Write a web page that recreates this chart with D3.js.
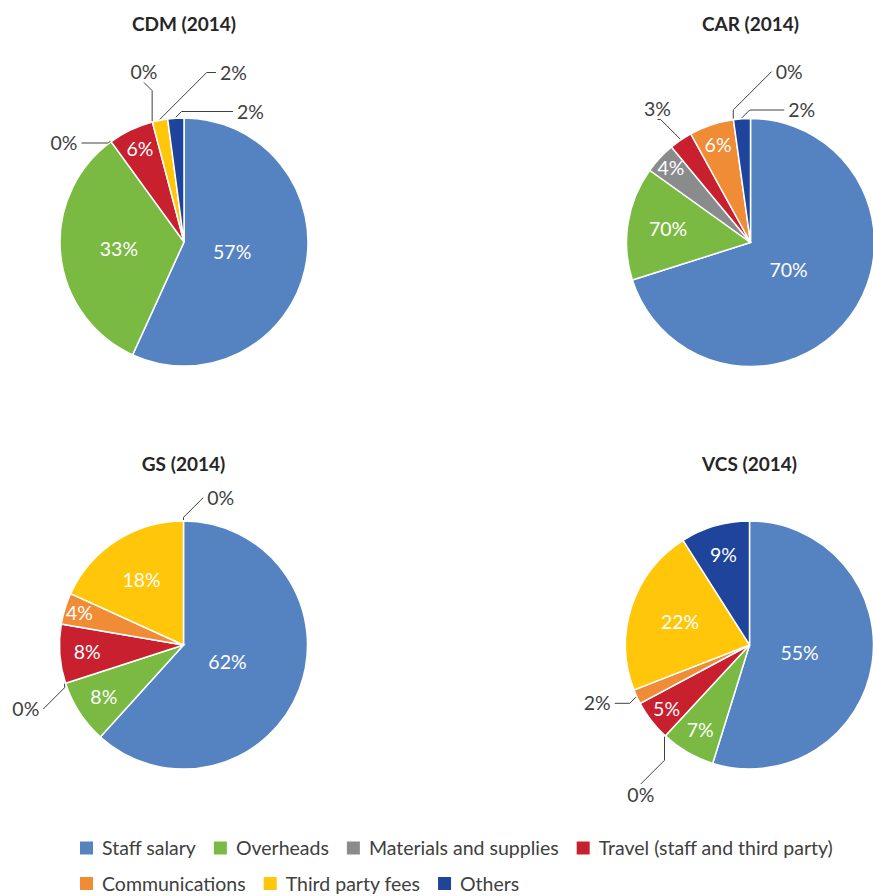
<!DOCTYPE html>
<html>
<head>
<meta charset="utf-8">
<script src="https://cdn.jsdelivr.net/npm/d3@7"></script>
<style>
  body { margin: 0; background: #fff; }
  svg text { font-family: Lato, "Open Sans", sans-serif; }
</style>
</head>
<body>
<div id="container"></div>
<script>
// categories in the order the slices run (clockwise from 12 o'clock)
const categories = ["Staff salary", "Overheads", "Materials and supplies", "Travel (staff and third party)",
                    "Communications", "Third party fees", "Others"]
const colors = ["#5583c2", "#7aba42", "#898b8c", "#c8202e", "#f08b36", "#ffc60a", "#1f449b"]

const titles = ["CDM (2014)", "CAR (2014)", "GS (2014)", "VCS (2014)"]

// slice sizes (percent)
const cdmValues = [56.8, 33.2, 0, 5.9, 0, 2.0, 2.1]
const carValues = [70.1, 14.8, 4.1, 3.0, 5.8, 0, 2.2]
const gsValues  = [61.7, 8.3, 0, 7.7, 4.1, 18.2, 0]
const vcsValues = [54.8, 7.1, 0, 5.3, 1.9, 21.9, 9.0]

// data labels as printed (the green CAR one does say 70%)
const cdmLabels = ["57%", "33%", "0%", "6%", "0%", "2%", "2%"]
const carLabels = ["70%", "70%", "4%", "3%", "6%", "0%", "2%"]
const gsLabels  = ["62%", "8%", "0%", "8%", "4%", "18%", "0%"]
const vcsLabels = ["55%", "7%", "0%", "5%", "2%", "22%", "9%"]

const allValues = [cdmValues, carValues, gsValues, vcsValues]
const allLabels = [cdmLabels, carLabels, gsLabels, vcsLabels]

// ---- layout ----
const W = 873, H = 896, R = 124
const fontSize = 19.5
const panels = [
  {cx: 184,   cy: 242,   ty: 31},
  {cx: 750.5, cy: 242.5, ty: 31},
  {cx: 183.5, cy: 645,   ty: 471},
  {cx: 749.5, cy: 645,   ty: 471}
]
// labels pulled outside the pie, offset of the label centre from the pie centre
const outside = [
  {2: [-120, -99], 4: [-40, -170.5], 5: [49.5, -169.5], 6: [66.5, -130.5]},
  {3: [-93, -134], 5: [38.7, -171], 6: [51.3, -132.5]},
  {2: [-157.7, 64], 6: [37.3, -147.5]},
  {2: [-108.7, 150], 4: [-152.3, 58.3]}
]

// smaller slices get their label further out, like excel's best fit
const labelRadius = d3.scaleLinear()
  .domain([0.04, 0.08, 0.2, 0.6])
  .range([0.88, 0.77, 0.6, 0.38])
  .clamp(true)

const svg = d3.select("#container")
  .append("svg")
  .attr("width", W)
  .attr("height", H)

const pie = d3.pie().sort(null).value(d => d)
const arc = d3.arc().innerRadius(0).outerRadius(R)
const edge = d3.arc().innerRadius(R + 1).outerRadius(R + 1)

// leader line: anchor on the pie edge -> elbow -> side of the label box
function leaderPath(a, c, w, h) {
  const pad = 4
  const ddx = c[0] - a[0], ddy = c[1] - a[1]
  let e
  if (Math.abs(ddy) - h / 2 > Math.abs(ddx) - w / 2) {
    e = [c[0], ddy > 0 ? c[1] - h / 2 - pad : c[1] + h / 2 + pad]
  } else {
    e = [ddx > 0 ? c[0] - w / 2 - pad : c[0] + w / 2 + pad, c[1]]
  }
  const dx = e[0] - a[0], dy = e[1] - a[1]
  let m
  if (Math.abs(dx) >= Math.abs(dy)) {
    m = [a[0] + Math.sign(dx) * Math.abs(dy), e[1]]
  } else {
    m = [a[0], e[1] - Math.sign(dy) * Math.abs(dx)]
  }
  return d3.line()([a, m, e])
}

allValues.forEach((values, ci) => {
  const p = panels[ci]
  const labels = allLabels[ci]
  const total = d3.sum(values)
  const arcs = pie(values)

  svg.append("text")
    .attr("x", p.cx)
    .attr("y", p.ty)
    .attr("text-anchor", "middle")
    .attr("font-weight", "bold")
    .attr("font-size", 19)
    .attr("fill", "#262626")
    .text(titles[ci])

  const g = svg.append("g")
    .attr("transform", "translate(" + p.cx + "," + p.cy + ")")

  g.selectAll("path.slice")
    .data(arcs.filter(d => d.value > 0))
    .enter()
    .append("path")
    .attr("class", "slice")
    .attr("d", arc)
    .attr("fill", d => colors[d.index])
    .attr("stroke", "#fff")
    .attr("stroke-width", 1.5)

  arcs.forEach(d => {
    const nudge = outside[ci][d.index]
    if (nudge) {
      const t = g.append("text")
        .attr("x", nudge[0])
        .attr("y", nudge[1])
        .attr("dy", "0.36em")
        .attr("text-anchor", "middle")
        .attr("font-size", fontSize)
        .attr("fill", "#404040")
        .text(labels[d.index])
      const w = t.node().getComputedTextLength()
      g.append("path")
        .attr("d", leaderPath(edge.centroid(d), nudge, w, fontSize * 0.72))
        .attr("fill", "none")
        .attr("stroke", "#404040")
        .attr("stroke-width", 1)
    } else {
      const lr = R * labelRadius(d.value / total)
      const pos = d3.arc().innerRadius(lr).outerRadius(lr).centroid(d)
      g.append("text")
        .attr("x", pos[0])
        .attr("y", pos[1])
        .attr("dy", "0.36em")
        .attr("text-anchor", "middle")
        .attr("font-size", fontSize)
        .attr("fill", "#fff")
        .text(labels[d.index])
    }
  })
})

// legend, flowing left to right and wrapping
const legend = svg.append("g")
let lx = 80, row = 0
const rowY = [848, 883.5], maxX = 870, box = 13
categories.forEach((name, i) => {
  const item = legend.append("g")
  const t = item.append("text")
    .attr("font-size", fontSize)
    .attr("fill", "#404040")
    .attr("dy", "0.36em")
    .text(name)
  const w = box + 9 + t.node().getComputedTextLength()
  if (lx + w > maxX) { lx = 80; row++ }
  item.attr("transform", "translate(" + lx + "," + rowY[row] + ")")
  item.append("rect")
    .attr("x", 0)
    .attr("y", -box / 2)
    .attr("width", box)
    .attr("height", box)
    .attr("fill", colors[i])
  t.attr("x", box + 9)
  lx += w + 18
})
</script>
</body>
</html>
